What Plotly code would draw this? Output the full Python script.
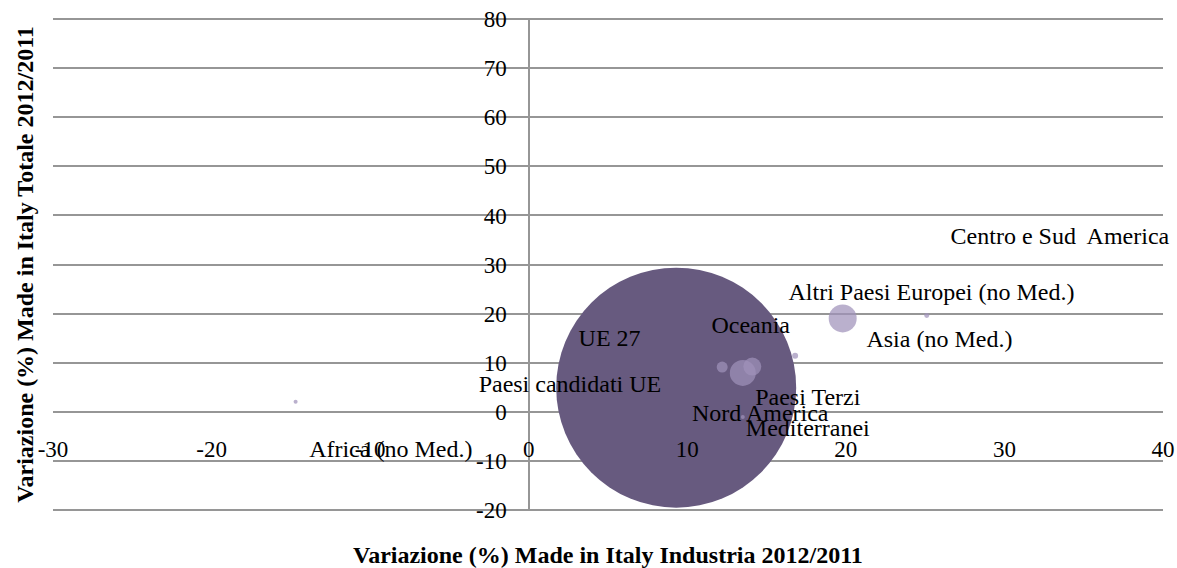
import plotly.graph_objects as go

# Variazione % Made in Italy 2012/2011 per area di destinazione
aree = [
    "UE 27",
    "Altri Paesi Europei (no Med.)",
    "Paesi Terzi Mediterranei",
    "Centro e Sud  America",
    "Paesi candidati UE",
    "Oceania",
    "Asia (no Med.)",
    "Nord America",
    "Africa (no Med.)",
]
var_industria = [9.3, 19.8, 13.5, 14.1, 12.2, 16.8, 25.1, 13.5, -14.7]
var_totale = [4.9, 19.0, 7.9, 9.2, 9.1, 11.4, 19.6, -1.1, 2.0]
peso_bolla = [100.0, 1.36, 1.17, 0.56, 0.21, 0.0625, 0.043, 0.028, 0.028]

x_ticks = [-30, -20, -10, 0, 10, 20, 30, 40]
y_ticks = [-20, -10, 0, 10, 20, 30, 40, 50, 60, 70, 80]

# label placement (data coords), moved by hand as in the original sheet
LABEL_POS = {
    "UE 27": (5.1, 14.7),
    "Altri Paesi Europei (no Med.)": (25.4, 23.9),
    "Paesi Terzi Mediterranei": (17.6, -0.6),
    "Centro e Sud  America": (33.5, 35.5),
    "Paesi candidati UE": (2.6, 5.3),
    "Oceania": (14.0, 17.3),
    "Asia (no Med.)": (25.9, 14.5),
    "Nord America": (14.6, -0.6),
    "Africa (no Med.)": (-8.7, -8.1),
}

FONT = "Liberation Serif, Times New Roman, serif"
GRID = "#969696"
UE_COLOR = "#675A7F"
OTHER_COLOR = "rgba(160,146,186,0.72)"
MAX_RADIUS = 120
PAD = 0.25  # small pad so the 80 / -20 grid lines are not dropped at the edges

colors = [UE_COLOR if a == "UE 27" else OTHER_COLOR for a in aree]

fig = go.Figure()
fig.add_trace(
    go.Scatter(
        x=var_industria,
        y=var_totale,
        mode="markers",
        marker=dict(
            size=peso_bolla,
            sizemode="area",
            sizeref=max(peso_bolla) / (2 * MAX_RADIUS ** 2),
            color=colors,
            opacity=1,
            line=dict(width=0),
        ),
        text=aree,
        hovertemplate="%{text}<br>Industria: %{x}%<br>Totale: %{y}%<extra></extra>",
    )
)

label_text = [a.replace("Terzi ", "Terzi<br>").replace("  ", "\u00a0 ") for a in aree]
fig.add_trace(
    go.Scatter(
        x=[LABEL_POS[a][0] for a in aree],
        y=[LABEL_POS[a][1] for a in aree],
        mode="text",
        text=label_text,
        textposition="middle center",
        textfont=dict(family=FONT, size=24, color="black"),
        cliponaxis=False,
        hoverinfo="skip",
    )
)

fig.update_layout(
    width=1177,
    height=568,
    margin=dict(l=53, r=14, t=18, b=57),
    paper_bgcolor="white",
    plot_bgcolor="white",
    showlegend=False,
    font=dict(family=FONT, size=23, color="black"),
    xaxis=dict(
        range=[-30, 40],
        tickvals=x_ticks,
        ticktext=[str(v) for v in x_ticks],
        showgrid=False,
        zeroline=True,
        zerolinecolor=GRID,
        zerolinewidth=2,
        showline=False,
        ticks="",
        anchor="free",
        position=0.158,
        automargin=False,
        tickfont=dict(family=FONT, size=23, color="black"),
    ),
    yaxis=dict(
        range=[-20 - PAD, 80 + PAD],
        tickvals=y_ticks,
        ticktext=[str(v) for v in y_ticks],
        showgrid=True,
        gridcolor=GRID,
        gridwidth=2,
        zeroline=False,
        showline=False,
        ticks="",
        anchor="free",
        position=30 / 70,
        ticklabelstandoff=22,
        automargin=False,
        tickfont=dict(family=FONT, size=23, color="black"),
    ),
    annotations=[
        dict(
            text="<b>Variazione (%) Made in Italy Industria 2012/2011</b>",
            xref="paper", yref="paper", x=0.5, y=-0.09,
            xanchor="center", yanchor="middle", showarrow=False,
            font=dict(family=FONT, size=24, color="black"),
        ),
        dict(
            text="<b>Variazione (%) Made in Italy Totale 2012/2011</b>",
            xref="paper", yref="paper", x=-0.026, y=0.5, textangle=-90,
            xanchor="center", yanchor="middle", showarrow=False,
            font=dict(family=FONT, size=24, color="black"),
        ),
    ],
)

# drop the default body margin so the figure fills the window exactly
fig.write_html(
    "out.html",
    config={"displayModeBar": False},
    post_script="document.body.style.margin='0';document.body.style.overflow='hidden';",
)
